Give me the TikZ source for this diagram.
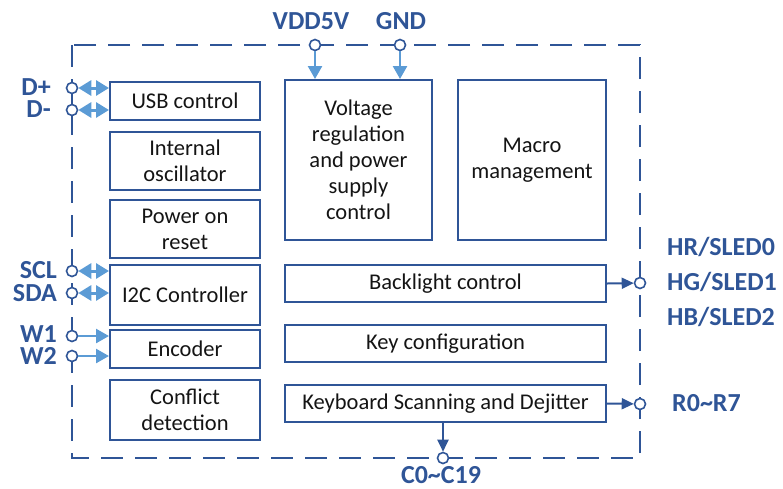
\documentclass[tikz,border=0pt]{standalone}
\usepackage{fontspec}
\setmainfont{Carlito}
\usetikzlibrary{arrows.meta}
\definecolor{dblue}{RGB}{47,85,151}
\definecolor{lblue}{RGB}{91,155,213}
\definecolor{txt}{RGB}{20,20,20}

\begin{document}
\begin{tikzpicture}[x=1pt,y=-1pt]
    \tikzset{%
      blk/.style={draw=dblue, line width=2pt, rectangle, inner sep=0pt,
        text=txt, align=center, font=\fontsize{22.5}{26}\selectfont},
      pin/.style={circle, draw=dblue, line width=1.6pt, fill=white,
        inner sep=0pt, minimum size=11pt},
      lbl/.style={text=dblue, font=\fontsize{26}{28}\selectfont\bfseries,
        inner sep=0pt, text height=16pt, text depth=1pt},
      bus/.style={lblue, line width=3pt,
        {Triangle[length=13pt,width=15pt]}-{Triangle[length=13pt,width=15pt]}},
      inp/.style={lblue, line width=2.5pt, -{Triangle[length=13pt,width=14pt]}},
      outp/.style={dblue, line width=2pt, -{Triangle[length=12pt,width=11pt]}},
    }
    \useasboundingbox (0,0) rectangle (783,488);
    % chip outline
    \draw [dblue, line width=2.5pt, dash pattern=on 22pt off 12pt]
      (72,45) rectangle (640,458);
    \draw [dblue, line width=2pt] (72,88) -- (72,110);

    % left column
    \node[blk, minimum width=150pt, minimum height=38pt] (usb) at (185,101) {USB control};
    \node[blk, minimum width=150pt, minimum height=58pt] (osc) at (185,161) {Internal\\oscillator};
    \node[blk, minimum width=150pt, minimum height=58pt] (por) at (185,229) {Power on\\reset};
    \node[blk, minimum width=150pt, minimum height=60pt] (i2c) at (185,295) {I2C Controller};
    \node[blk, minimum width=150pt, minimum height=38pt] (enc) at (185,349) {Encoder};
    \node[blk, minimum width=150pt, minimum height=60pt] (cfl) at (185,410) {Conflict\\detection};

    % right part
    \node[blk, minimum width=147pt, minimum height=160pt] (vreg) at (358.5,160) {Voltage\\regulation\\and power\\supply\\control};
    \node[blk, minimum width=148pt, minimum height=160pt] (macro) at (532,160) {Macro\\management};
    \node[blk, minimum width=321pt, minimum height=37pt] (blc) at (445.5,283.5) {Backlight control};
    \node[blk, minimum width=321pt, minimum height=37pt] (kcf) at (445.5,343.5) {Key configuration};
    \node[blk, minimum width=321pt, minimum height=37pt] (kbs) at (445.5,403.5) {Keyboard Scanning and Dejitter};

    % pins
    \node[pin] (dp) at (72,88) {};
    \node[lbl, anchor=east] at (51,88) {D+};
    \node[pin] (dm) at (72,110) {};
    \node[lbl, anchor=east] at (51,110) {D-};
    \node[pin] (scl) at (72,271) {};
    \node[lbl, anchor=east] at (57,271) {SCL};
    \node[pin] (sda) at (72,293) {};
    \node[lbl, anchor=east] at (57,294) {SDA};
    \node[pin] (w1) at (72,336) {};
    \node[lbl, anchor=east] at (57,335) {W1};
    \node[pin] (w2) at (72,356) {};
    \node[lbl, anchor=east] at (57,357) {W2};

    \node[pin] (vdd) at (315,45) {};
    \node[lbl] at (311,22) {VDD5V};
    \node[pin] (gnd) at (400,45) {};
    \node[lbl] at (401,22) {GND};

    \node[pin] (hled) at (640,283) {};
    \node[lbl, anchor=west] at (667,248) {HR/SLED0};
    \node[lbl, anchor=west] at (667,283) {HG/SLED1};
    \node[lbl, anchor=west] at (667,318) {HB/SLED2};
    \node[pin] (row) at (640,404) {};
    \node[lbl, anchor=west] at (672,404) {R0\textasciitilde R7};
    \node[pin] (col) at (443,458) {};
    \node[lbl] at (441,476) {C0\textasciitilde C19};

    % connectors
    \draw [bus] (dp) -- (dp -| usb.west);
    \draw [bus] (dm) -- (dm -| usb.west);
    \draw [bus] (scl) -- (scl -| i2c.west);
    \draw [bus] (sda) -- (sda -| i2c.west);
    \draw [inp] (w1) -- (w1 -| enc.west);
    \draw [inp] (w2) -- (w2 -| enc.west);
    \draw [inp] (vdd) -- (vdd |- vreg.north);
    \draw [inp] (gnd) -- (gnd |- vreg.north);
    \draw [outp] (blc.east) -- (hled);
    \draw [outp] (kbs.east) -- (row);
    \draw [outp] (kbs.south -| col) -- (col);
  \end{tikzpicture}
\end{document}
